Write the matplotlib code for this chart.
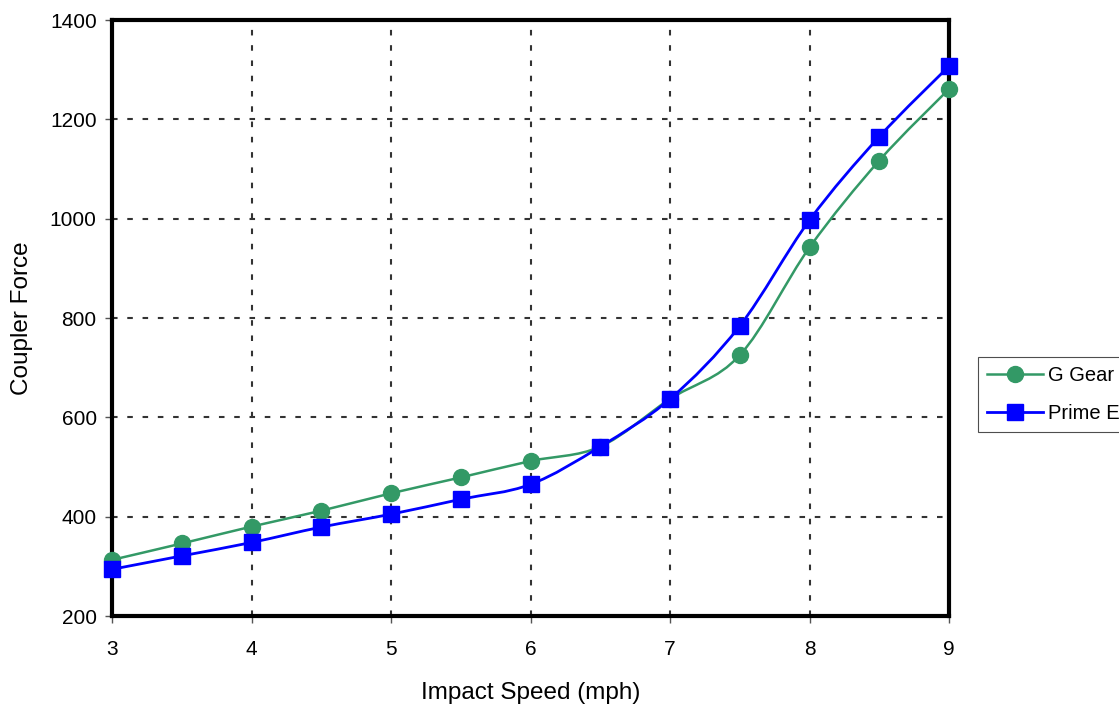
import matplotlib
matplotlib.use("Agg")
import matplotlib.pyplot as plt
from matplotlib.path import Path
from matplotlib.patches import PathPatch
from matplotlib.lines import Line2D
import numpy as np

plt.rcParams['font.family'] = ['Liberation Sans', 'DejaVu Sans']
plt.rcParams['lines.scale_dashes'] = False

speed = [3, 3.5, 4, 4.5, 5, 5.5, 6, 6.5, 7, 7.5, 8, 8.5, 9]
g_gear = [313, 346, 380, 412, 447, 479, 512, 541, 637, 725, 942, 1117, 1261]
prime_e = [294, 321, 348, 379, 405, 435, 465, 541, 637, 784, 997, 1165, 1307]

x_ticks = [3, 4, 5, 6, 7, 8, 9]
y_ticks = [200, 400, 600, 800, 1000, 1200, 1400]

GREEN = '#339966'
BLUE = '#0000FF'


def smooth_path(xs, ys):
    """Catmull-Rom style cubic Bezier through the points (spreadsheet 'smoothed line')."""
    pts = np.column_stack([xs, ys]).astype(float)
    n = len(pts)
    verts = [tuple(pts[0])]
    codes = [Path.MOVETO]
    for i in range(n - 1):
        p0 = pts[i - 1] if i > 0 else pts[i]
        p1 = pts[i]
        p2 = pts[i + 1]
        p3 = pts[i + 2] if i + 2 < n else pts[i + 1]
        c1 = p1 + (p2 - p0) / 6.0
        c2 = p2 - (p3 - p1) / 6.0
        verts += [tuple(c1), tuple(c2), tuple(p2)]
        codes += [Path.CURVE4] * 3
    return Path(verts, codes)


fig = plt.figure(figsize=(11.19, 7.07), dpi=100)
L, R, T, B = 112, 949, 20, 616
ax = fig.add_axes([L / 1119, 1 - B / 707, (R - L) / 1119, (B - T) / 707])

ax.set_xlim(3, 9)
ax.set_ylim(200, 1400)
ax.set_xticks(x_ticks)
ax.set_yticks(y_ticks)

ax.grid(True, color='#333333', linewidth=1.5, dashes=(4.0, 7.0))
ax.set_axisbelow(True)

for sp in ax.spines.values():
    sp.set_linewidth(3.0)
    sp.set_color('black')

ax.tick_params(axis='both', direction='out', length=5, width=1.0, color='#555555',
               labelsize=15)
ax.tick_params(axis='x', pad=12)
ax.tick_params(axis='y', pad=6)

series = [
    (g_gear, GREEN, 'o', 11.5, 1.8, 'G Gear'),
    (prime_e, BLUE, 's', 11.0, 2.0, 'Prime E'),
]
handles = []
for ys, col, mk, ms, lw, lab in series:
    patch = PathPatch(smooth_path(speed, ys), facecolor='none', edgecolor=col,
                      linewidth=lw, zorder=3, clip_on=False)
    ax.add_patch(patch)
    ax.plot(speed, ys, linestyle='none', marker=mk, markersize=ms, color=col,
            markeredgecolor=col, zorder=4, clip_on=False)
    handles.append(Line2D([], [], color=col, linewidth=lw, marker=mk,
                          markersize=ms, markeredgecolor=col, label=lab))

ax.set_xlabel('Impact Speed (mph)', fontsize=17.5, labelpad=17)
ax.set_ylabel('Coupler Force', fontsize=17.5, labelpad=12)

leg = fig.legend(handles=handles, loc='upper left',
                 bbox_to_anchor=(978 / 1119, 1 - 357 / 707),
                 fontsize=14.5, frameon=True, fancybox=False, edgecolor='#222222',
                 handlelength=2.8, handletextpad=0.25, borderpad=0.45,
                 labelspacing=0.95, borderaxespad=0)
leg.get_frame().set_linewidth(0.8)

fig.savefig('out.png', dpi=100)
